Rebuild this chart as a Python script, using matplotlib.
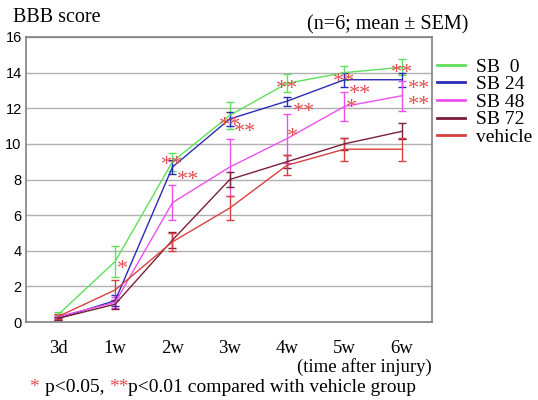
import matplotlib
matplotlib.use("Agg")
import matplotlib.pyplot as plt
from matplotlib.lines import Line2D
import numpy as np

categories = ["3d", "1w", "2w", "3w", "4w", "5w", "6w"]
series_names = ["SB  0", "SB 24", "SB 48", "SB 72", "vehicle"]
sb0 = [0.4, 3.4, 9.0, 11.6, 13.4, 14.0, 14.3]
sb0_err = [0.15, 0.85, 0.5, 0.75, 0.5, 0.4, 0.45]
sb24 = [0.2, 1.2, 8.7, 11.4, 12.4, 13.6, 13.6]
sb24_err = [0.1, 0.3, 0.4, 0.4, 0.25, 0.4, 0.4]
sb48 = [0.3, 1.1, 6.7, 8.7, 10.3, 12.1, 12.7]
sb48_err = [0.1, 0.3, 1.0, 1.6, 1.4, 0.8, 0.85]
sb72 = [0.2, 1.0, 4.6, 8.0, 9.0, 10.0, 10.7]
sb72_err = [0.1, 0.25, 0.45, 0.4, 0.35, 0.35, 0.45]
vehicle = [0.3, 1.8, 4.5, 6.4, 8.8, 9.7, 9.7]
vehicle_err = [0.15, 0.55, 0.5, 0.65, 0.55, 0.65, 0.65]

colors = ["#5ee05a", "#2b2bb5", "#ee50ee", "#7a1f3a", "#d84040"]

# significance marks: category index, x offset, y value, text
sig_cat = [1, 2, 2, 3, 3, 4, 4, 4, 5, 5, 5, 6, 6, 6]
sig_x = [0.12, 0.0, 0.27, 0.0, 0.27, 0.0, 0.3, 0.1, 0.0, 0.27, 0.12, 0.0, 0.3, 0.3]
sig_y = [3.2, 9.0, 8.2, 11.2, 10.9, 13.3, 12.0, 10.6, 13.7, 13.0, 12.2, 14.2, 13.3, 12.4]
sig_t = ["*", "**", "**", "**", "**", "**", "**", "*", "**", "**", "*", "**", "**", "**"]

SERIF = "Liberation Serif"
STAR = "#e05050"

fig = plt.figure(figsize=(5.38, 4.0), dpi=100)
ax = fig.add_axes([0.048, 0.195, 0.755, 0.7125])

x = np.arange(len(categories))
data = [sb0, sb24, sb48, sb72, vehicle]
errs = [sb0_err, sb24_err, sb48_err, sb72_err, vehicle_err]
for name, y, e, c in zip(series_names, data, errs, colors):
    ax.errorbar(x, y, yerr=e, color=c, lw=1.0, elinewidth=1.0, capsize=3,
                capthick=1.0)

for cat, dx, yy, t in zip(sig_cat, sig_x, sig_y, sig_t):
    ax.annotate(t, (cat + dx, yy), xytext=(0, -3), textcoords="offset points",
                color=STAR, fontsize=16, family=SERIF, ha="center", va="center")

ax.set_xlim(-0.56, 6.53)
ax.set_ylim(0, 16)
ax.set_yticks(range(0, 17, 2))
ax.set_xticks(x)
ax.set_xticklabels(categories, family=SERIF, fontsize=13.5)
ax.tick_params(axis="x", length=0, pad=13)
ax.tick_params(axis="y", length=0, pad=3, labelsize=10.5)
for lab in ax.get_yticklabels():
    lab.set_family("Liberation Sans")
ax.grid(axis="y", color="#b0b0b0", lw=1)
ax.set_axisbelow(True)
for s in ax.spines.values():
    s.set_color("#808080")
    s.set_linewidth(1.2)

handles = [Line2D([], [], color=c, lw=2) for c in colors]
fig.legend(handles, series_names, loc="upper left",
           bbox_to_anchor=(437 / 538, 1 - 58 / 400), frameon=False,
           prop={"family": SERIF, "size": 14},
           handlelength=1.45, labelspacing=0.0, handletextpad=0.55,
           borderpad=0, borderaxespad=0)

fig.text(13 / 538, 1 - 18 / 400, "BBB score", family=SERIF, fontsize=14.5, va="center")
fig.text(388 / 538, 1 - 25 / 400, "(n=6; mean \u00b1 SEM)", family=SERIF, fontsize=14.5,
         ha="center", va="center")
fig.text(364 / 538, 1 - 367 / 400, "(time after injury)", family=SERIF, fontsize=13.5,
         ha="center", va="center")

# footnote built piece by piece
pieces = [("* ", STAR), ("p<0.05, ", "black"), ("**", STAR),
          ("p<0.01 compared with vehicle group", "black")]
fig.canvas.draw()
renderer = fig.canvas.get_renderer()
xpos = 30 / 538
for txt, col in pieces:
    t = fig.text(xpos, 1 - 388 / 400, txt, color=col, family=SERIF, fontsize=14,
                 va="center")
    bb = t.get_window_extent(renderer)
    xpos += bb.width / fig.bbox.width

fig.savefig("out.png", dpi=100)
